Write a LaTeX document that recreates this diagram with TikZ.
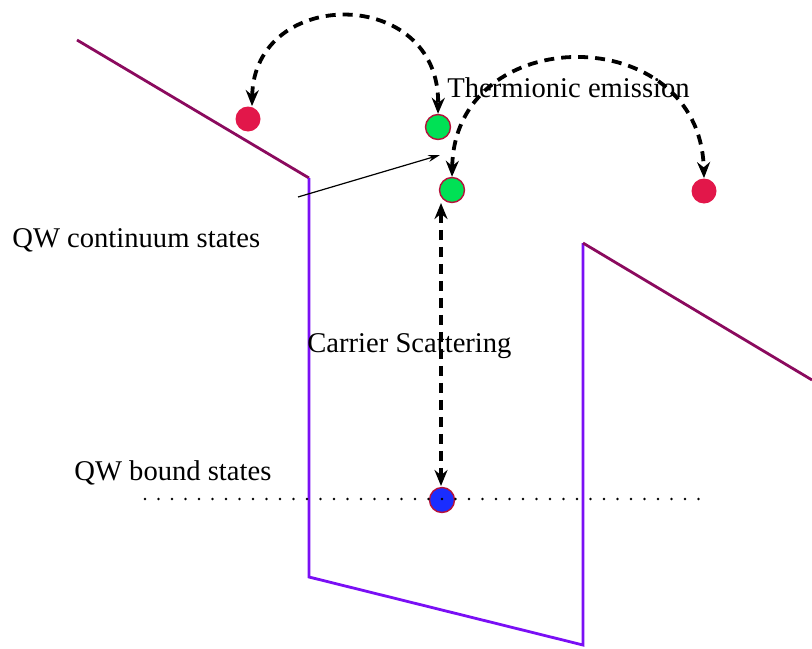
\documentclass[tikz,border=0pt]{standalone}
\usepackage{fontspec}
\setmainfont{Liberation Serif}
\usepackage{tikz}
\usetikzlibrary{positioning, arrows.meta}

\definecolor{bandmaroon}{HTML}{8B0A5E}
\definecolor{wellviolet}{HTML}{7A0FF5}
\definecolor{hotred}{HTML}{E2174A}
\definecolor{hotgreen}{HTML}{00E155}
\definecolor{coldblue}{HTML}{1A2DFF}

\begin{document}
\begin{tikzpicture}[x=0.5pt,y=-0.5pt,>={Stealth[length=8pt,width=6.5pt]},font=\fontsize{14.3}{17}\selectfont]
\tikzstyle{carrier}=[circle,inner sep=0pt,minimum size=12.5pt]
\tikzstyle{hop}=[line width=1.9pt,dash pattern=on 5pt off 3.5pt]
\tikzstyle{label}=[inner sep=0pt,anchor=base west]
\useasboundingbox (0,0) rectangle (812,648);

% band edges
\coordinate (M1) at (77,40);
\coordinate (W1) at (309,178);
\coordinate (W2) at (309,577);
\coordinate (W3) at (583,645);
\coordinate (W4) at (583,243);
\coordinate (M2) at (812,380);
\draw[bandmaroon,line width=1.4pt] (M1) -- (W1);
\draw[wellviolet,line width=1.4pt] (W1) -- (W2) -- (W3) -- (W4);
\draw[bandmaroon,line width=1.4pt] (W4) -- (M2);

% carriers
\node[carrier,fill=hotred] (R1) at (248,119) {};
\node[carrier,fill=hotgreen,draw=hotred!80!black,line width=0.7pt] (G1) at (438,127) {};
\node[carrier,fill=hotgreen,draw=hotred!80!black,line width=0.7pt] (G2) at (452,190) {};
\node[carrier,fill=hotred] (R2) at (704,191) {};
\node[carrier,fill=coldblue,draw=hotred!80!black,line width=0.7pt] (B1) at (442,500) {};

% bound level
\coordinate (D1) at (145,499);
\coordinate (D2) at (708,499);
\draw[line width=1.3pt,dash pattern=on 0pt off 6.75pt,line cap=round] (D1) -- (D2);

% labels
\node[label] (TE) at (447,97) {Thermionic emission};
\node[label] (QC) at (12,247) {QW continuum states};
\node[label] (CS) at (307,352) {Carrier Scattering};
\node[label] (QB) at (74,480) {QW bound states};

% transitions
\coordinate (A1) at (298,197);
\coordinate (A2) at (440,155);
\coordinate (V1) at (441,203);
\coordinate (V2) at (441,486);
\draw[hop,<->] ([xshift=2pt]R1.north) .. controls (254,-14) and (440,-14) .. (G1.north);
\draw[hop,<->] (G2.north) .. controls (455,20) and (700,20) .. (R2.north);
\draw[hop,<->] (V1) -- (V2);
\draw[->,>={Stealth[length=6pt,width=3.5pt]},line width=0.6pt] (A1) -- (A2);
\end{tikzpicture}
\end{document}
